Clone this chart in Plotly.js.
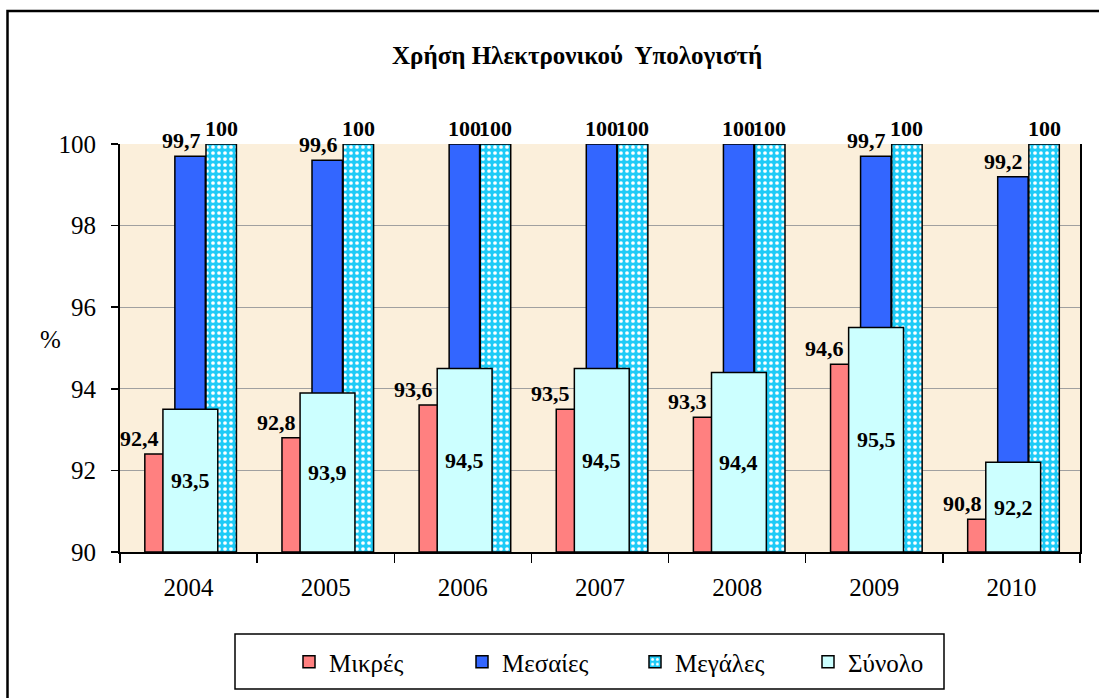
<!DOCTYPE html>
<html>
<head>
<meta charset="utf-8">
<script src="https://cdn.plot.ly/plotly-3.0.1.min.js"></script>
<style>
  html, body { margin: 0; padding: 0; background: #ffffff; }
  #chart { width: 1099px; height: 698px; }
</style>
</head>
<body>
<div id="chart"></div>
<script>
// ---- data ----
const years = ['2004', '2005', '2006', '2007', '2008', '2009', '2010'];
const mikres = [92.4, 92.8, 93.6, 93.5, 93.3, 94.6, 90.8];
const mesaies = [99.7, 99.6, 100, 100, 100, 99.7, 99.2];
const megales = [100, 100, 100, 100, 100, 100, 100];
const synolo = [93.5, 93.9, 94.5, 94.5, 94.4, 95.5, 92.2];
const seriesNames = ['Μικρές', 'Μεσαίες', 'Μεγάλες', 'Σύνολο'];
const yTicks = [90, 92, 94, 96, 98, 100];

// ---- layout helpers ----
const W = 1099, H = 698;
const M = { l: 120, r: 19, t: 144, b: 146 };
const PW = W - M.l - M.r, PH = H - M.t - M.b;
const px = x => (x - M.l) / PW;          // pixel -> paper x
const py = y => (H - M.b - y) / PH;      // pixel -> paper y
const AXIS_MIN = 90;

const serif = '"Liberation Serif", "Times New Roman", serif';
const labelFont = { family: serif, size: 22, color: '#000000', weight: 'bold' };
const fmt = v => String(v).replace('.', ',');

// bar geometry (category units)
const geo = {
  mikres: { off: -0.319, w: 0.135, label: -0.36 },
  mesaies: { off: -0.100, w: 0.222 },
  megales: { off: 0.127, w: 0.222 },
  synolo: { off: -0.187, w: 0.40 }
};

function barTrace(name, vals, color, g, extra) {
  return Object.assign({
    type: 'bar',
    name: name,
    x: years,
    y: vals.map(v => v - AXIS_MIN),
    base: AXIS_MIN,
    offset: g.off,
    width: g.w,
    marker: { color: color, line: { color: '#000000', width: 1.5 } },
    hoverinfo: 'skip'
  }, extra || {});
}

const traces = [
  barTrace(seriesNames[0], mikres, '#FF8080', geo.mikres),
  barTrace(seriesNames[1], mesaies, '#3366FF', geo.mesaies),
  barTrace(seriesNames[2], megales, '#1ECBF7', geo.megales, {
    marker: {
      color: '#1ECBF7',
      line: { color: '#000000', width: 1.5 },
      pattern: { shape: '.', bgcolor: '#1ECBF7', fgcolor: '#ffffff', fillmode: 'replace', size: 6, solidity: 0.3 }
    }
  }),
  barTrace(seriesNames[3], synolo, '#CCFFFF', geo.synolo)
];

// data labels as annotations (drawn above all bars)
const annotations = [];
function addLabels(vals, xoff, inside, wideShift) {
  vals.forEach((v, i) => {
    const t = fmt(v);
    annotations.push({
      xref: 'x', yref: 'y',
      x: i + xoff,
      y: inside ? (AXIS_MIN + v) / 2 : v,
      yanchor: inside ? 'middle' : 'bottom',
      xanchor: 'center',
      xshift: (wideShift && t.length > 3) ? wideShift : 0,
      yshift: inside ? 0 : 1,
      text: t,
      showarrow: false,
      font: labelFont
    });
  });
}
addLabels(mikres, geo.mikres.label, false, 0);
addLabels(mesaies, geo.mesaies.off + geo.mesaies.w / 2, false, -9);
addLabels(megales, geo.megales.off + geo.megales.w / 2, false, 0);
addLabels(synolo, geo.synolo.off + geo.synolo.w / 2, true, 0);

annotations.push(
  {
    xref: 'paper', yref: 'paper',
    x: px(577), y: py(55), xanchor: 'center', yanchor: 'middle',
    text: 'Χρήση Ηλεκτρονικού\u00a0 Υπολογιστή',
    showarrow: false,
    font: { family: serif, size: 25, color: '#000000', weight: 'bold' }
  },
  {
    xref: 'paper', yref: 'paper',
    x: px(50), y: py(339), xanchor: 'center', yanchor: 'middle',
    text: '%',
    showarrow: false,
    font: { family: serif, size: 25, color: '#000000' }
  }
);

const layout = {
  width: W, height: H,
  margin: M,
  paper_bgcolor: '#ffffff',
  plot_bgcolor: '#FBEFDB',
  barmode: 'overlay',
  showlegend: true,
  font: { family: serif, color: '#000000' },
  xaxis: {
    type: 'category',
    range: [-0.5, 6.5],
    tickson: 'boundaries',
    ticks: 'outside',
    ticklen: 9,
    tickwidth: 1.5,
    tickcolor: '#000000',
    showline: true,
    linecolor: '#000000',
    linewidth: 2,
    showgrid: false,
    tickfont: { family: serif, size: 25, color: '#000000' },
    ticklabelstandoff: 12,
    fixedrange: true
  },
  yaxis: {
    range: [90, 100],
    tickvals: yTicks,
    ticktext: yTicks.map(String),
    ticks: 'outside',
    ticklen: 7,
    tickwidth: 1.5,
    tickcolor: '#000000',
    showline: true,
    mirror: true,
    linecolor: '#000000',
    linewidth: 2,
    showgrid: true,
    gridcolor: '#A0A0A0',
    gridwidth: 1.2,
    zeroline: false,
    tickfont: { family: serif, size: 25, color: '#000000' },
    ticklabelstandoff: 10,
    fixedrange: true
  },
  legend: {
    orientation: 'h',
    x: px(289), xanchor: 'left',
    y: py(662), yanchor: 'middle',
    bgcolor: 'rgba(0,0,0,0)',
    borderwidth: 0,
    font: { family: serif, size: 25, color: '#000000' },
    traceorder: 'normal',
    entrywidthmode: 'pixels',
    entrywidth: 128
  },
  annotations: annotations,
  shapes: [
    {
      type: 'rect', xref: 'paper', yref: 'paper', layer: 'below',
      x0: px(7.5), x1: px(1115), y0: py(715), y1: py(11),
      line: { color: '#000000', width: 2.5 }, fillcolor: 'rgba(0,0,0,0)'
    },
    {
      type: 'rect', xref: 'paper', yref: 'paper', layer: 'above',
      x0: px(235), x1: px(944), y0: py(689), y1: py(634),
      line: { color: '#000000', width: 1.5 }, fillcolor: 'rgba(0,0,0,0)'
    }
  ]
};

Plotly.newPlot('chart', traces, layout, { staticPlot: true, displayModeBar: false });
</script>
</body>
</html>
